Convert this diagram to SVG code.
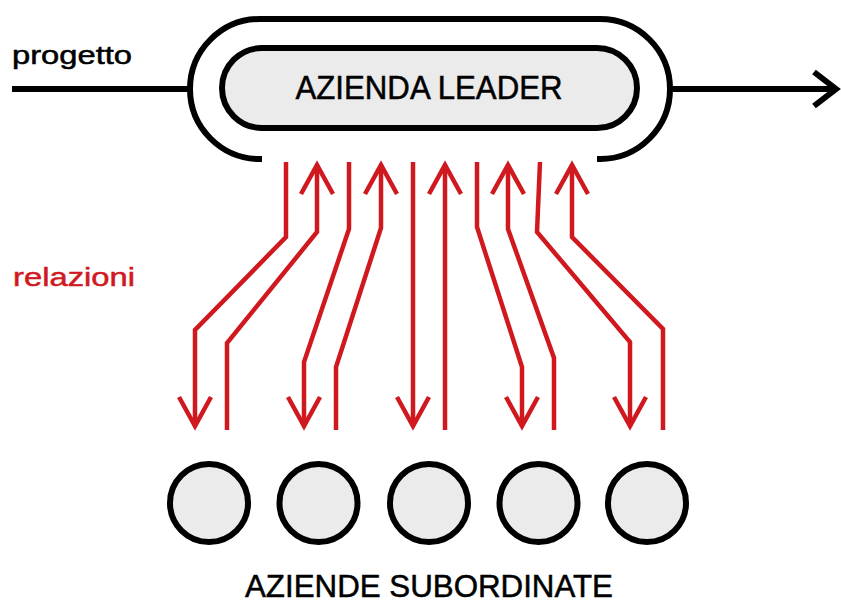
<svg xmlns="http://www.w3.org/2000/svg" width="841" height="603" viewBox="0 0 841 603">
  <style>
    .blk { fill: none; stroke: #000; stroke-width: 6; }
    .node { fill: #ebebeb; stroke: #000; stroke-width: 6; }
    .rel { fill: none; stroke: #d0191f; stroke-width: 4.5; stroke-linejoin: miter; }
    .txt { font-family: "Liberation Sans", Arial, sans-serif; fill: #000; stroke: #000; stroke-width: 0.5; }
    .red { fill: #d0191f; stroke: #d0191f; }
  </style>
  <defs>
    <marker id="ah" markerUnits="userSpaceOnUse" orient="auto" viewBox="-34 -20 38 40" markerWidth="38" markerHeight="40" refX="0" refY="0" overflow="visible">
      <path d="M-29,-16 L0,0 L-29,16" fill="none" stroke="#d0191f" stroke-width="4.5"/>
    </marker>
    <marker id="bh" markerUnits="userSpaceOnUse" orient="auto" viewBox="-34 -20 38 40" markerWidth="38" markerHeight="40" refX="0" refY="0" overflow="visible">
      <path d="M-22,-17 L0,0 L-22,17" fill="none" stroke="#000" stroke-width="6"/>
    </marker>
  </defs>

  <g id="progetto">
    <text class="txt" x="12" y="64" font-size="26" textLength="120" lengthAdjust="spacingAndGlyphs">progetto</text>
  </g>

  <g id="relazioni">
    <text class="txt red" x="13" y="286" font-size="26" textLength="122" lengthAdjust="spacingAndGlyphs">relazioni</text>
  </g>

  <g id="connectors">
    <path class="blk" d="M12 89 H190"/>
    <path class="blk" d="M670 89 H836" marker-end="url(#bh)"/>
    <path class="rel" d="M286 162 V237 L195 330 V426" marker-end="url(#ah)"/>
    <path class="rel" d="M227 430 V343 L317 232 V165" marker-end="url(#ah)"/>
    <path class="rel" d="M349 162 V229 L304 362 V426" marker-end="url(#ah)"/>
    <path class="rel" d="M336 430 V367 L381 228 V165" marker-end="url(#ah)"/>
    <path class="rel" d="M413 162 V426" marker-end="url(#ah)"/>
    <path class="rel" d="M445 430 V165" marker-end="url(#ah)"/>
    <path class="rel" d="M477 162 V227 L522 367 V426" marker-end="url(#ah)"/>
    <path class="rel" d="M554 430 V358 L508 229 V165" marker-end="url(#ah)"/>
    <path class="rel" d="M540 162 L537 232 L630 342 V426" marker-end="url(#ah)"/>
    <path class="rel" d="M663 430 V329 L572 237 V165" marker-end="url(#ah)"/>
  </g>

  <g id="contenitore">
    <path class="blk" d="M262 159 H260 A70 70 0 0 1 260 19 H600 A70 70 0 0 1 600 159 H597"/>
  </g>

  <g id="azienda-leader">
    <rect class="node" x="222" y="48" width="415" height="80" rx="40" ry="40"/>
    <text class="txt" x="429" y="99" font-size="33" text-anchor="middle" textLength="267" lengthAdjust="spacingAndGlyphs">AZIENDA LEADER</text>
  </g>

  <g id="sub1"><circle class="node" cx="209" cy="503" r="39"/></g>
  <g id="sub2"><circle class="node" cx="318.5" cy="503" r="39"/></g>
  <g id="sub3"><circle class="node" cx="429" cy="503" r="39"/></g>
  <g id="sub4"><circle class="node" cx="538.5" cy="503" r="39"/></g>
  <g id="sub5"><circle class="node" cx="647" cy="503" r="39"/></g>

  <g id="aziende-subordinate">
    <text class="txt" x="429" y="597" font-size="31" text-anchor="middle" textLength="368" lengthAdjust="spacingAndGlyphs">AZIENDE SUBORDINATE</text>
  </g>
</svg>
